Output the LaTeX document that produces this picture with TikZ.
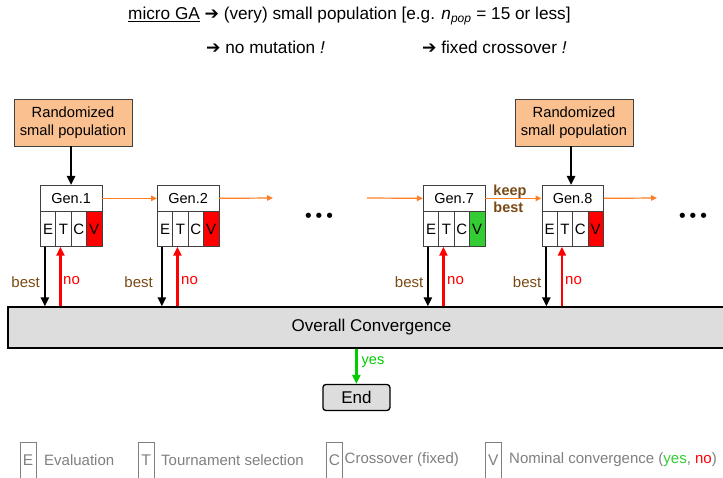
\documentclass[tikz,border=0pt]{standalone}
\usepackage{fontspec}
\setmainfont{Liberation Sans}
\newfontfamily\djv{DejaVu Sans}
\usetikzlibrary{arrows.meta}
\definecolor{peach}{HTML}{FAC090}
\definecolor{orarrow}{HTML}{FF7F27}
\definecolor{brn}{HTML}{7B4A14}
\definecolor{cellgreen}{HTML}{33CC33}
\definecolor{arrgreen}{HTML}{00CC00}
\definecolor{barfill}{HTML}{DDDDDD}
\definecolor{leggray}{HTML}{808080}
\newcommand\genblk[4]{%
  \node[genbox, anchor=north west] (#1) at (#2,185) {#3};
  \node[cellbox] (#1E) at (#2,211) {E};
  \node[cellbox] (#1T) at ({#2+15.375},211) {T};
  \node[cellbox] (#1C) at ({#2+30.75},211) {C};
  \node[cellbox, fill=#4] (#1V) at ({#2+46.125},211) {V};
}
\tikzset{
  rndbox/.style={draw=black!75, line width=0.8pt, fill=peach, minimum width=118pt, minimum height=47pt, inner sep=0pt, align=center, font=\fontsize{14.7}{17.5}\selectfont},
  genbox/.style={draw=black!75, line width=0.7pt, fill=white, minimum width=61.5pt, minimum height=26pt, inner sep=0pt, font=\fontsize{14.5}{17}\selectfont},
  cellbox/.style={draw=black!75, line width=0.7pt, fill=white, minimum width=15.375pt, minimum height=35pt, inner sep=0pt, anchor=north west, font=\fontsize{15}{18}\selectfont},
  orar/.style={draw=orarrow, line width=1.2pt, -{Triangle[length=6pt,width=5.5pt]}},
  blkar/.style={draw=black, line width=2.3pt, -{Triangle[length=9pt,width=8pt]}},
  redar/.style={draw=red, line width=2.3pt, -{Triangle[length=9pt,width=8pt]}},
  grnar/.style={draw=arrgreen, line width=2.3pt, -{Triangle[length=9pt,width=8pt]}},
  bestlbl/.style={text=brn, inner sep=0pt, anchor=east, font=\fontsize{15}{18}\selectfont},
  nolbl/.style={text=red, inner sep=0pt, anchor=west, font=\fontsize{15}{18}\selectfont},
  barbox/.style={draw=black, line width=1.3pt, fill=barfill, minimum width=727pt, minimum height=41pt, inner sep=0pt, font=\fontsize{17}{20}\selectfont},
  endbox/.style={draw=black, line width=1.3pt, fill=barfill, rounded corners=3pt, minimum width=67pt, minimum height=26pt, inner sep=0pt, font=\fontsize{17}{20}\selectfont},
  legbox/.style={draw=leggray, line width=0.7pt, text=leggray, minimum width=16pt, minimum height=36pt, inner sep=0pt, font=\fontsize{15.5}{18}\selectfont},
  legtxt/.style={text=leggray, anchor=west, inner sep=0pt, font=\fontsize{15}{18}\selectfont},
  ttl/.style={anchor=west, inner sep=0pt, font=\fontsize{17.2}{20}\selectfont},
  dots/.style={inner sep=0pt, font=\djv\fontsize{18}{20}\selectfont}
}
\begin{document}
\begin{tikzpicture}[x=1pt,y=-1pt]
\clip (0,0) rectangle (723,478);
\fill[white] (0,0) rectangle (723,478);
% title
\node[ttl] (t1) at (128,16) {\underline{micro GA} {\djv ➔} (very) small population [e.g. \textit{n}\textsubscript{\textit{pop}} = 15 or less]};
\node[ttl] (t2) at (206,47) {{\djv ➔} no mutation \textit{!}};
\node[ttl] (t3) at (422,47) {{\djv ➔} fixed crossover \textit{!}};
% randomized populations
\node[rndbox] (r1) at (73,122.5) {Randomized\\small population};
\node[rndbox] (r2) at (574,122.5) {Randomized\\small population};
% generations
\genblk{g1}{40}{Gen.1}{red}
\genblk{g2}{157}{Gen.2}{red}
\genblk{g7}{423}{Gen.7}{cellgreen}
\genblk{g8}{541.5}{Gen.8}{red}
\draw[blkar] (g1.north |- r1.south) -- (g1.north);
\draw[blkar] ([xshift=-1.5pt]g8.north |- r2.south) -- ([xshift=-1.5pt]g8.north);
% orange flow
\coordinate (o2) at (273,198);
\coordinate (i7) at (367,198);
\coordinate (o8) at (657,198);
\draw[orar] (g1.east) -- (g2.west);
\draw[orar] (g2.east) -- (o2);
\draw[orar] (i7) -- (g7.west);
\draw[orar] (g7.east) -- (g8.west);
\draw[orar] (g8.east) -- (o8);
\node[text=brn, align=left, inner sep=0pt, font=\bfseries\fontsize{14.5}{17}\selectfont] (kb) at (510,198.5) {keep\\best};
\node[dots] (d1) at (319,218) {•••};
\node[dots] (d2) at (693,218) {•••};
% overall convergence
\node[barbox] (bar) at (371.5,327.5) {Overall Convergence};
\foreach \g in {g1,g2,g7,g8}{
  \draw[blkar] ([xshift=-3.2pt]\g E.south) -- ([xshift=-3.2pt]\g E.south |- bar.north);
  \draw[redar] ([xshift=-3pt]\g T.south |- bar.north) -- ([xshift=-3pt]\g T.south);
}
\node[bestlbl] (b1) at (40,282) {best};
\node[bestlbl] (b2) at (153,282) {best};
\node[bestlbl] (b7) at (423.5,282) {best};
\node[bestlbl] (b8) at (541.5,282) {best};
\node[nolbl] (n1) at (63,281) {no};
\node[nolbl] (n2) at (181,281) {no};
\node[nolbl] (n7) at (447,281) {no};
\node[nolbl] (n8) at (565,281) {no};
% end
\node[endbox] (end) at (356.4,397.5) {End};
\draw[grnar] (end.north |- bar.south) -- (end.north);
\node[text=arrgreen, anchor=west, inner sep=0pt, font=\fontsize{14.5}{17}\selectfont] (yes) at (361.5,362) {yes};
% legend
\node[legbox] (lE) at (28,460) {E};
\node[legtxt] (lEt) at (44,460) {Evaluation};
\node[legbox] (lT) at (146,460) {T};
\node[legtxt] (lTt) at (161,460) {Tournament selection};
\node[legbox] (lC) at (334.5,460) {C};
\node[legtxt] (lCt) at (344.5,460) {Crossover (fixed)};
\node[legbox] (lV) at (493.3,460) {V};
\node[legtxt] (lVt) at (509,460) {Nominal convergence ({\color{cellgreen}yes}, {\color{red}no})};
\end{tikzpicture}
\end{document}
